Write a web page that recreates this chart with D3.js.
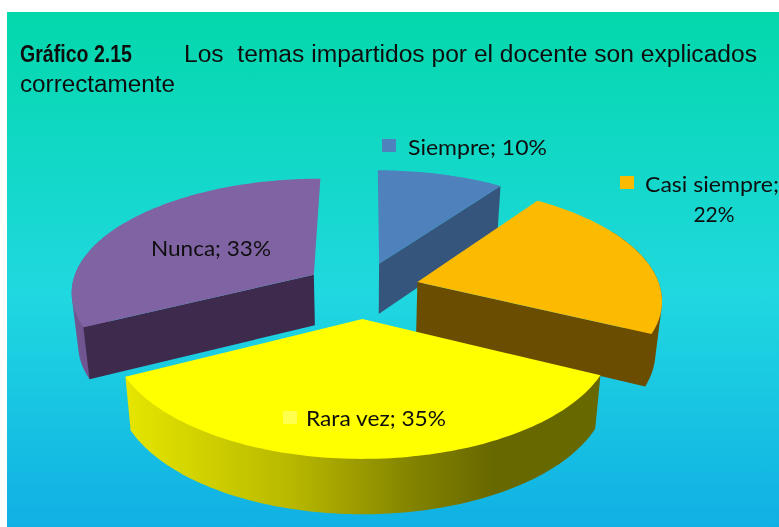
<!DOCTYPE html>
<html>
<head>
<meta charset="utf-8">
<script src="https://cdn.jsdelivr.net/npm/d3@7"></script>
<style>
  html, body { margin: 0; padding: 0; background: #fff; }
  svg { display: block; }
</style>
</head>
<body>
<div id="chart"></div>
<script>
const categories = ["Siempre", "Casi siempre", "Rara vez", "Nunca"];
// shares, labels show them rounded
const percents = [9.8, 22.4, 35.3, 32.5];
const titleBold = "Gráfico 2.15";
const titleRest = "Los  temas impartidos por el docente son explicados";
const titleLine2 = "correctamente";

const topColors = ["#4f81bd", "#fcbb00", "#ffff00", "#8064a2"];
const cutColors = ["#35557c", "#6b4d00", "#676700", "#3e2c4e"];
const rimColors = ["#35557c", "#6b4d00", "#676700", "#6f5590"];
const keyColors = ["#4f81bd", "#fcbb00", "#ffff4d", "#7f63a2"];

const width = 779, height = 527;
const svg = d3.select("#chart").append("svg").attr("width", width).attr("height", height);
const defs = svg.append("defs");

// reference is an upscaled bitmap, so everything is a little soft
const soft = defs.append("filter").attr("id", "soft");
soft.append("feGaussianBlur").attr("stdDeviation", 0.45);

const bg = defs.append("linearGradient").attr("id", "bg")
  .attr("x1", 0).attr("y1", 0).attr("x2", 0).attr("y2", 1);
bg.append("stop").attr("offset", "0%").attr("stop-color", "#03d8ab");
bg.append("stop").attr("offset", "55%").attr("stop-color", "#20d8e0");
bg.append("stop").attr("offset", "100%").attr("stop-color", "#10b0e4");

const rimGrad = defs.append("linearGradient").attr("id", "rim")
  .attr("gradientUnits", "userSpaceOnUse")
  .attr("x1", 125).attr("x2", 600).attr("y1", 0).attr("y2", 0);
[[0, "#e6e600"], [0.35, "#b8b800"], [0.62, "#808000"], [0.78, "#676700"], [1, "#676700"]]
  .forEach(s => rimGrad.append("stop").attr("offset", s[0]).attr("stop-color", s[1]));

svg.append("rect").attr("x", 7).attr("y", 12)
  .attr("width", width - 7).attr("height", height - 12).attr("fill", "url(#bg)");

// 3d pie: world x to the right, y going away from the viewer, r = 1
const cx = 362, cy = 288.5, scaleX = 243, scaleY = 113, depth = 51;
const persp = 0.14, shrink = 0.022;
const rotation = 0.2 * Math.PI / 180;
const explode = [0.237, 0.237, 0.26, 0.237];
const radius = [1, 1, 0.985, 1];
const sx = d3.scaleLinear().domain([-1, 1]).range([cx - scaleX, cx + scaleX]);

// z = 0 top face, z = 1 bottom face (a bit narrower, seen from above)
function project(x, y, z) {
  const w = 1 + persp * y;
  return [
    cx + (sx(x) - cx) / w * (1 - shrink * z),
    cy - scaleY * y / w + (depth - 3.5 * y) * z
  ];
}

const pie = d3.pie().sort(null).value(d => d)
  .startAngle(rotation).endAngle(rotation + 2 * Math.PI);
const arcs = pie(percents);
const line = d3.line();

const slices = arcs.map((a, i) => {
  const mid = (a.startAngle + a.endAngle) / 2;
  return {
    i: i,
    r: radius[i],
    start: a.startAngle,
    end: a.endAngle,
    ox: explode[i] * Math.sin(mid),
    oy: explode[i] * Math.cos(mid)
  };
});

function rimPoint(s, t, z) {
  return project(s.ox + s.r * Math.sin(t), s.oy + s.r * Math.cos(t), z);
}
function apex(s, z) {
  return project(s.ox, s.oy, z);
}
function arcAngles(from, to) {
  const n = Math.max(2, Math.ceil((to - from) / 0.02));
  return d3.range(n + 1).map(k => from + (to - from) * k / n);
}

const pieG = svg.append("g").attr("filter", "url(#soft)");

// painter order: far slice first, the big front slice last
[0, 3, 1, 2].forEach(idx => {
  const s = slices[idx];
  const g = pieG.append("g");

  // outer rim as a hull of both arcs, cut faces and top get painted over the rest
  const a0 = Math.max(s.start, Math.PI / 2 - 0.5), a1 = Math.min(s.end, Math.PI * 1.5 + 0.5);
  if (a1 > a0) {
    const ts = arcAngles(a0, a1);
    const hull = d3.polygonHull(ts.map(t => rimPoint(s, t, 0)).concat(ts.map(t => rimPoint(s, t, 1))));
    g.append("path").attr("d", line(hull) + "Z")
      .attr("fill", idx === 2 ? "url(#rim)" : rimColors[idx]);
  }

  // flat cut faces, only those turned to the viewer
  const cuts = [];
  if (Math.sin(s.start) < -0.02) cuts.push(s.start);
  if (Math.sin(s.end) > 0.02) cuts.push(s.end);
  cuts.forEach(t => {
    g.append("path")
      .attr("d", line([apex(s, 0), rimPoint(s, t, 0), rimPoint(s, t, 1), apex(s, 1)]) + "Z")
      .attr("fill", cutColors[idx]);
  });

  // top
  const top = [apex(s, 0)].concat(arcAngles(s.start, s.end).map(t => rimPoint(s, t, 0)));
  g.append("path").attr("d", line(top) + "Z").attr("fill", topColors[idx]);
});

// data labels, key square + text
const labelFont = "Lato, 'Noto Sans', sans-serif";
const keyPos = [[382, 139], [620, 176], [283, 411], [129, 240]];
const textPos = [[408, 155], [645, 192], [306, 426], [151, 256]];
const textLen = [139, 134, 140, 120];

const labelG = svg.append("g").attr("filter", "url(#soft)");
categories.forEach((c, i) => {
  const shown = Math.round(percents[i]) + "%";
  labelG.append("rect")
    .attr("x", keyPos[i][0]).attr("y", keyPos[i][1])
    .attr("width", 14).attr("height", 13).attr("fill", keyColors[i]);
  const t = labelG.append("text")
    .attr("x", textPos[i][0]).attr("y", textPos[i][1])
    .attr("font-family", labelFont).attr("font-size", 21).attr("fill", "#111")
    .attr("textLength", textLen[i]).attr("lengthAdjust", "spacingAndGlyphs");
  // the long label wraps onto a second line in the reference
  t.text(i === 1 ? c + ";" : c + "; " + shown);
  if (i === 1) {
    labelG.append("text")
      .attr("x", 714).attr("y", 222).attr("text-anchor", "middle")
      .attr("font-family", labelFont).attr("font-size", 21).attr("fill", "#111")
      .text(shown);
  }
});

// title
const titleG = svg.append("g").attr("filter", "url(#soft)")
  .attr("font-family", "'Liberation Sans', Arial, sans-serif").attr("fill", "#111");
titleG.append("text").attr("x", 20).attr("y", 62)
  .attr("font-size", 23).attr("font-weight", "bold")
  .attr("textLength", 112).attr("lengthAdjust", "spacingAndGlyphs").text(titleBold);
titleG.append("text").attr("x", 184).attr("y", 62)
  .style("white-space", "pre")
  .attr("font-size", 23)
  .attr("textLength", 573).attr("lengthAdjust", "spacingAndGlyphs").text(titleRest);
titleG.append("text").attr("x", 20).attr("y", 92)
  .attr("font-size", 23)
  .attr("textLength", 155).attr("lengthAdjust", "spacingAndGlyphs").text(titleLine2);
</script>
</body>
</html>
